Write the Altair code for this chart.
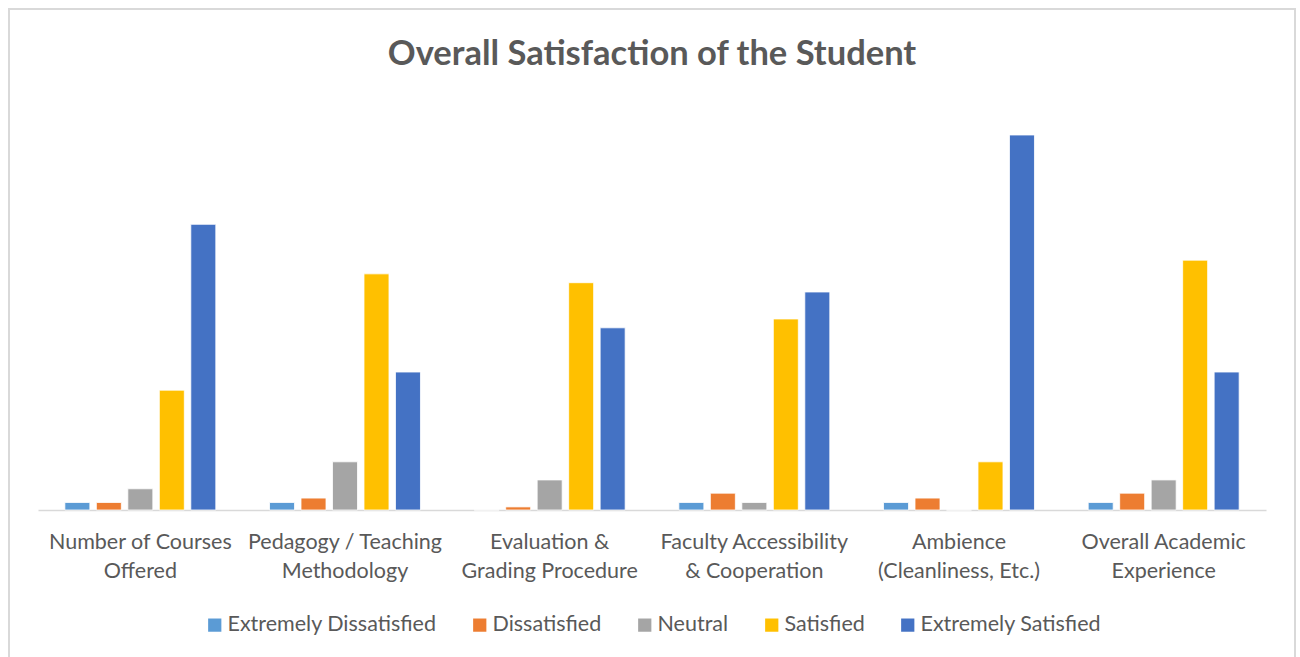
import altair as alt
import pandas as pd

categories = [
    "Number of Courses Offered",
    "Pedagogy / Teaching Methodology",
    "Evaluation & Grading Procedure",
    "Faculty Accessibility & Cooperation",
    "Ambience (Cleanliness, Etc.)",
    "Overall Academic Experience",
]
label_lines = [
    ["Number of Courses", "Offered"],
    ["Pedagogy / Teaching", "Methodology"],
    ["Evaluation &", "Grading Procedure"],
    ["Faculty Accessibility", "& Cooperation"],
    ["Ambience", "(Cleanliness, Etc.)"],
    ["Overall Academic", "Experience"],
]
series = ["Extremely Dissatisfied", "Dissatisfied", "Neutral", "Satisfied", "Extremely Satisfied"]
colors = ["#5B9BD5", "#ED7D31", "#A5A5A5", "#FFC000", "#4472C4"]

extremely_dissatisfied = [1.7, 1.7, 0.0, 1.7, 1.7, 1.7]
dissatisfied = [1.7, 2.7, 0.7, 3.8, 2.7, 3.8]
neutral = [4.8, 10.9, 6.8, 1.7, 0.0, 6.8]
satisfied = [27.1, 53.4, 51.4, 43.2, 10.9, 56.5]
extremely_satisfied = [64.6, 31.2, 41.2, 49.3, 84.8, 31.2]

values = [extremely_dissatisfied, dissatisfied, neutral, satisfied, extremely_satisfied]
rows = []
for s, vals in zip(series, values):
    for c, v in zip(categories, vals):
        rows.append({"Category": c, "Series": s, "Value": v})
df = pd.DataFrame(rows)

expr = ""
for c, lines in zip(categories, label_lines):
    expr += "datum.label == " + repr(c) + " ? [" + ", ".join(repr(l) for l in lines) + "] : "
expr += "datum.label"

TEXT = "#595959"
FONT = "Lato"

bars = alt.Chart(df).mark_bar(stroke="white", strokeWidth=0.8).encode(
    x=alt.X("Category:N", sort=categories,
            scale=alt.Scale(paddingInner=0, paddingOuter=0),
            axis=alt.Axis(title=None, labelAngle=0, ticks=False, grid=False,
                          domainColor="#D9D9D9", domainWidth=1.5,
                          labelFont=FONT, labelFontSize=21.5, labelColor=TEXT,
                          labelPadding=32, labelLineHeight=29, labelLimit=400,
                          labelExpr=expr, labelBaseline="middle")),
    xOffset=alt.XOffset("Series:N", sort=series,
                        scale=alt.Scale(paddingInner=0.206, paddingOuter=0.853)),
    y=alt.Y("Value:Q", scale=alt.Scale(domain=[0, 90]), axis=None),
    color=alt.Color("Series:N", sort=series,
                    scale=alt.Scale(domain=series, range=colors),
                    legend=alt.Legend(title=None, orient="none", direction="horizontal",
                                      legendX=166, legendY=502,
                                      symbolType="square", symbolSize=175,
                                      symbolStrokeWidth=0, labelFont=FONT,
                                      labelFontSize=21.5, labelColor=TEXT,
                                      columnPadding=32, symbolOffset=0,
                                      labelOffset=2, labelLimit=400)),
)

border = alt.Chart(pd.DataFrame({"a": [0]})).mark_rect(
    fill="transparent", stroke="#D9D9D9", strokeWidth=2
).encode(x=alt.value(-29), x2=alt.value(1257), y=alt.value(-103), y2=alt.value(560))

chart = alt.layer(bars, border).properties(
    width=1228, height=398,
    title=alt.TitleParams("Overall Satisfaction of the Student", font=FONT,
                          fontSize=34.5, fontWeight="bold", color=TEXT,
                          anchor="middle", frame="group", baseline="alphabetic",
                          offset=0, dy=91),
    padding={"left": 38, "top": 112, "right": 34, "bottom": 147},
    autosize=alt.AutoSizeParams(type="none"),
).configure(background="white").configure_view(stroke="transparent", strokeWidth=0)

chart.save("out.html", embed_options={"renderer": "svg", "actions": False})
